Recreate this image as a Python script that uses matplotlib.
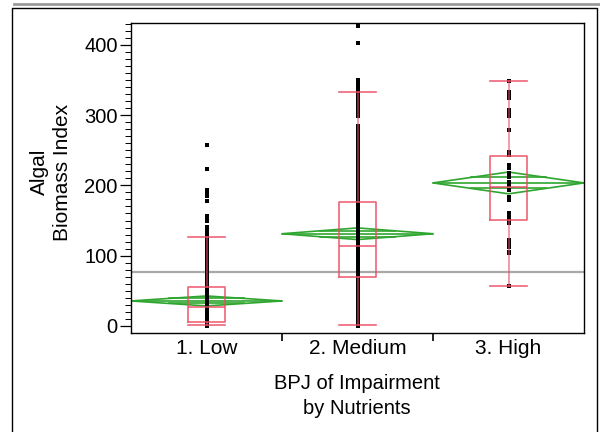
import matplotlib

matplotlib.use("Agg")
import matplotlib.pyplot as plt
from matplotlib.lines import Line2D
from matplotlib.patches import Polygon

# Categories and per-group readings (Algal Biomass Index)
groups = ["1. Low", "2. Medium", "3. High"]

low_values = [0.5, 1, 1.5, 2, 2.5, 3, 3.5, 4, 4.5, 5, 5.5, 6, 6.5, 7, 8, 9, 10,
              11, 12, 13, 14, 15, 16, 17, 18, 19, 20, 21, 22, 23, 24, 25, 26, 27,
              28, 29, 30, 31, 33, 35, 37, 39, 41, 43, 45, 47, 49, 51, 53, 55, 57,
              60, 63, 66, 69, 72, 75, 78, 81, 84, 88, 92, 96, 100, 104, 108, 112,
              116, 120, 124, 127, 132, 136.7, 141.4, 150, 153.3, 156.6, 178.4,
              185.5, 189.8, 193.6, 223, 257.7]
medium_values = [0.5, 3, 6, 9, 12, 15, 18, 21, 24, 27, 30, 33, 36, 39, 42, 45, 48,
                 51, 54, 57, 60, 63, 66, 69, 72, 75, 78, 81, 84, 87, 90, 93, 96, 99,
                 102, 105, 108, 111, 114, 117, 120, 123, 126, 129, 132, 135, 138,
                 141, 144, 147, 150, 153, 156, 159, 162, 165, 168, 171, 174, 177,
                 180, 184, 188, 192, 196, 200, 204, 208, 212, 216, 220, 224, 228,
                 232, 236, 240, 244, 248, 252, 256, 260, 264, 268, 272, 276, 280,
                 284, 298, 302, 306, 310, 314, 318, 322, 326, 330, 334, 338, 342,
                 346, 350, 402, 427]
high_values = [57.4, 103.5, 105.8, 112.9, 117.7, 122.4, 146.2, 150.9, 155.6, 160.4,
               179.4, 184, 193.6, 200.7, 205.4, 212.6, 217.3, 224.5, 229.2, 243.4,
               248, 279, 298, 302.8, 307.5, 324.1, 328.8, 333.5, 347.8]

# Box plot summaries
whisker_lo = [1.5, 1, 57.4]
q1 = [6, 70, 150.4]
median = [26.6, 114, 197]
q3 = [56, 177, 242.5]
whisker_hi = [126, 333, 347.8]

# Means diamonds (mean and 95% CI half-width) and grand mean
means = [35.6, 131.2, 203.5]
ci_half = [7.1, 8.3, 15.5]
grand_mean = 77

RED = "#ec4a62"
GREEN = "#2ea52e"

plt.rcParams["font.family"] = ["Liberation Sans", "DejaVu Sans"]

fig = plt.figure(figsize=(6, 4.32), dpi=100)
ax = fig.add_axes([131 / 600, 1 - 333 / 432, 453 / 600, 310 / 432])

ax.axhline(grand_mean, color="#a8a8a8", lw=1.6, zorder=1)

# means diamonds spanning each category
for i, (m, c) in enumerate(zip(means, ci_half)):
    left, right = i - 0.5, i + 0.5
    diamond = Polygon([(left, m), (i, m + c), (right, m), (i, m - c)],
                      closed=True, fill=False, ec=GREEN, lw=1.2, zorder=2)
    ax.add_patch(diamond)
    ax.plot([left, right], [m, m], color=GREEN, lw=1.2, zorder=2)
    for sgn in (1, -1):
        ax.plot([i - 0.25, i + 0.25], [m + sgn * 0.5 * c] * 2, color=GREEN,
                lw=1.2, zorder=2)

# raw points stacked at each category
for i, vals in enumerate([low_values, medium_values, high_values]):
    ax.plot([i] * len(vals), vals, ls="none", marker="s", ms=2.6, mfc="black",
            mec="none", mew=0, zorder=3)

stats = []
for i in range(len(groups)):
    stats.append({"whislo": whisker_lo[i], "q1": q1[i], "med": median[i],
                  "q3": q3[i], "whishi": whisker_hi[i], "fliers": []})
line_kw = {"color": RED, "lw": 1.2, "alpha": 0.85}
whisk_kw = {"color": RED, "lw": 1.2, "alpha": 0.65}
bp = ax.bxp(stats, positions=range(len(groups)), widths=0.25, capwidths=0.25,
            showfliers=False, boxprops=line_kw, whiskerprops=whisk_kw,
            capprops=line_kw, medianprops=line_kw, manage_ticks=False)
for key in ("boxes", "whiskers", "caps", "medians"):
    for artist in bp[key]:
        artist.set_zorder(4)

ax.set_xlim(-0.5, 2.5)
ax.set_ylim(-10, 431)

ax.set_yticks([0, 100, 200, 300, 400])
ax.set_yticks(range(0, 431, 10), minor=True)
ax.tick_params(axis="y", which="major", length=8, width=0.9, pad=1.5,
               labelsize=14.5, direction="out")
ax.tick_params(axis="y", which="minor", length=4, width=0.7, direction="out")

ax.set_xticks([0.5, 1.5])
ax.set_xticklabels([])
ax.set_xticks([0, 1, 2], minor=True)
ax.set_xticklabels(groups, minor=True)
ax.tick_params(axis="x", which="major", length=6, width=1.2, direction="out")
ax.tick_params(axis="x", which="minor", length=0, pad=4.5, labelsize=15)

for sp in ax.spines.values():
    sp.set_linewidth(1.0)

fig.text(51 / 600, 1 - 172 / 432, "Algal\nBiomass Index", rotation=90,
         ha="center", va="center", multialignment="center", fontsize=15,
         linespacing=1.3)
fig.text(357 / 600, 1 - 396 / 432, "BPJ of Impairment\nby Nutrients",
         ha="center", va="center", multialignment="center", fontsize=14.5,
         linespacing=1.45)

# outer report frame
fig.add_artist(Line2D([14 / 600, 1], [1 - 4 / 432] * 2, color="#9a9a9a", lw=2))
fig.add_artist(Line2D([12 / 600, 12 / 600, 597 / 600, 597 / 600],
                      [-0.01, 1 - 8 / 432, 1 - 8 / 432, -0.01],
                      color="black", lw=1.0))

fig.savefig("out.png", dpi=100, facecolor="white")
